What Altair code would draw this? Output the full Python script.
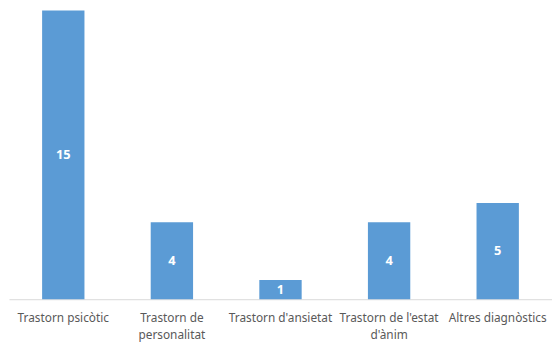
import altair as alt
import pandas as pd

categories = ["Trastorn psicòtic", "Trastorn de|personalitat", "Trastorn d'ansietat", "Trastorn de l'estat|d'ànim", "Altres diagnòstics"]
values = [15, 4, 1, 4, 5]

df = pd.DataFrame({"cat": categories, "val": values})
df["mid"] = df["val"] / 2

x = alt.X("cat:N", sort=categories, title=None,
          scale=alt.Scale(paddingInner=0.61, paddingOuter=0.305),
          axis=alt.Axis(labelAngle=0, ticks=False, domainColor="#D9D9D9", labelColor="#595959",
                        labelFont="Noto Sans", labelFontSize=12, labelPadding=14, labelLineHeight=17,
                        labelExpr="split(datum.label, '|')", labelLimit=200))

bars = alt.Chart(df).mark_bar(color="#5B9BD5").encode(
    x=x,
    y=alt.Y("val:Q", scale=alt.Scale(domain=[0, 15], nice=False), axis=None),
)
text = alt.Chart(df).mark_text(color="white", fontWeight="bold", fontSize=13, font="Noto Sans", baseline="middle").encode(
    x=alt.X("cat:N", sort=categories),
    y=alt.Y("mid:Q"),
    text="val:Q",
)

chart = (bars + text).properties(
    width=551, height=293,
    autosize=alt.AutoSizeParams(type="none"),
    padding={"left": 1, "top": 0, "right": 0, "bottom": 44},
).configure_view(stroke=None)

chart.save("out.html", embed_options={"renderer": "svg", "actions": False})
